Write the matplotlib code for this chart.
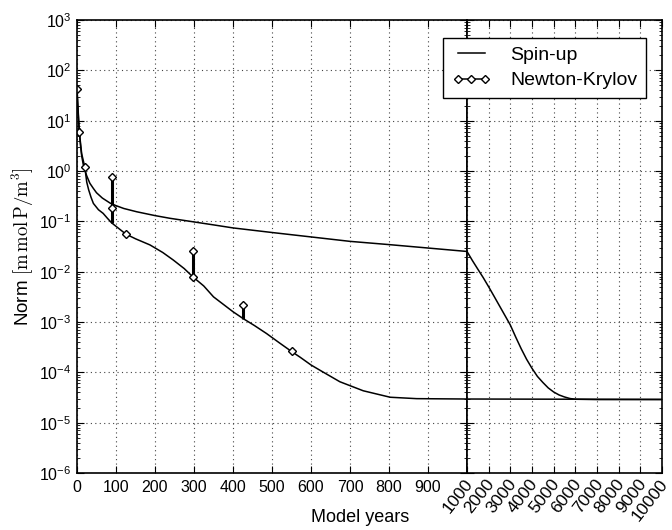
import numpy as np
import matplotlib
matplotlib.use("Agg")
import matplotlib.pyplot as plt
from matplotlib.lines import Line2D
from matplotlib.ticker import LogLocator, NullFormatter
from matplotlib.transforms import ScaledTranslation

plt.rcParams['font.family'] = ['Liberation Sans', 'DejaVu Sans']

# spin-up residual, years 0..1000
spin_years = [0, 2, 4, 6, 9, 12, 16, 20, 25, 33, 42, 50, 65, 85, 100, 120,
              153, 200, 238, 290, 350, 400, 500, 600, 700, 800, 900, 1000]
spin_norm = [42, 20, 10, 5.9, 3.2, 2.0, 1.35, 1.05, 0.8, 0.57, 0.45, 0.37,
             0.29, 0.23, 0.205, 0.18, 0.155, 0.13, 0.115, 0.10, 0.085, 0.074,
             0.06, 0.049, 0.040, 0.0345, 0.0295, 0.0252]
# spin-up residual, years 1000..10000
spin_years_long = [1000, 1250, 1500, 1750, 2000, 2250, 2500, 2750, 3000, 3250,
                   3500, 3750, 4000, 4250, 4500, 4750, 5000, 5250, 5500, 5750,
                   6000, 7000, 10000]
spin_norm_long = [0.0252, 0.0166, 0.0112, 0.0076, 0.0050, 0.00324, 0.00209,
                  0.00135, 8.7e-4, 5.0e-4, 2.95e-4, 1.82e-4, 1.2e-4, 8.3e-5,
                  6.3e-5, 4.9e-5, 4.07e-5, 3.55e-5, 3.24e-5, 3.02e-5, 2.92e-5,
                  2.88e-5, 2.88e-5]

# Newton-Krylov trajectory
nk_years = [0, 6, 12, 20, 25, 30, 36, 42, 55, 67, 78, 89, 125, 150, 187, 220,
            247, 275, 297, 325, 350, 400, 426, 455, 486, 520, 550, 572, 600,
            623, 674, 734, 803, 871, 1000]
nk_norm = [42, 5.9, 2.2, 1.2, 0.6, 0.42, 0.3, 0.227, 0.17, 0.144, 0.115, 0.093,
           0.056, 0.045, 0.034, 0.024, 0.017, 0.0115, 0.0079, 0.0052, 0.00316,
           0.0016, 0.00117, 0.00085, 0.00059, 0.00038, 0.00026, 0.0002,
           0.00014, 0.00011, 6.5e-5, 4.3e-5, 3.2e-5, 3.0e-5, 2.95e-5]
nk_years_long = [1000, 10000]
nk_norm_long = [2.95e-5, 2.9e-5]

# Newton iterates (markers) and restarts (vertical jumps)
mark_years = [0, 6, 20, 89, 90, 125, 297, 297, 426, 550]
mark_norm = [42, 5.9, 1.2, 0.77, 0.18, 0.056, 0.026, 0.0079, 0.00216, 0.00026]
jump_years = [89, 297, 426]
jump_low = [0.093, 0.0079, 0.00117]
jump_high = [0.77, 0.026, 0.00216]

y_ticks = [1e-6, 1e-5, 1e-4, 1e-3, 1e-2, 1e-1, 1e0, 1e1, 1e2, 1e3]

fig = plt.figure(figsize=(6.72, 5.30), dpi=100)
ax1 = fig.add_axes([77 / 672, 1 - 473 / 530, 390 / 672, 453 / 530])
ax2 = fig.add_axes([467 / 672, 1 - 473 / 530, 195 / 672, 453 / 530])

ax1.plot(spin_years, spin_norm, color='black', lw=1.1)
ax1.plot(nk_years, nk_norm, color='black', lw=1.1)
ax1.vlines(jump_years, jump_low, jump_high, color='black', lw=2.2)
ax1.plot(mark_years, mark_norm, ls='none', marker='D', ms=4.5, mfc='white',
         mec='black', mew=1.0)

ax2.plot(spin_years_long, spin_norm_long, color='black', lw=1.1)
ax2.plot(nk_years_long, nk_norm_long, color='black', lw=1.1)

for ax in (ax1, ax2):
    ax.set_yscale('log')
    ax.set_ylim(1e-6, 1e3)
    ax.set_yticks(y_ticks)
    ax.yaxis.set_minor_locator(LogLocator(base=10, subs=np.arange(2, 10), numticks=20))
    ax.yaxis.set_minor_formatter(NullFormatter())
    ax.set_ylim(1e-6, 1e3)
    ax.grid(True, which='major', ls=(0, (1, 3)), color='#444444', lw=0.8)
    ax.tick_params(which='both', direction='in', top=True, right=True,
                   labelsize=11.5)
    ax.tick_params(which='major', length=5)
    ax.tick_params(which='minor', length=2.5)
    for sp in ax.spines.values():
        sp.set_linewidth(1.2)

ax1.set_xlim(0, 1000)
ax1.set_xticks(range(0, 1000, 100))
ax1.tick_params(axis='x', pad=5)
ax1.tick_params(axis='y', pad=4)

ax2.set_xlim(1000, 10000)
ax2.set_xticks(range(1000, 10001, 1000))
ax2.set_xticklabels([str(v) for v in range(1000, 10001, 1000)], rotation=52,
                    ha='right', va='top', rotation_mode='anchor', fontsize=12.5)
ax2.tick_params(axis='x', pad=2.5)
ax2.tick_params(axis='y', labelleft=False)
shift = ScaledTranslation(-3 / 100, 0, fig.dpi_scale_trans)
for lab in ax2.get_xticklabels():
    lab.set_transform(lab.get_transform() + shift)

ax1.set_ylabel(r'Norm $[\mathrm{m\,mol\,P/m^3}]$', fontsize=13.5,
               math_fontfamily='cm', labelpad=2)
fig.text(360 / 672, 1 - 522 / 530, 'Model years', ha='center', va='baseline',
         fontsize=13)

handles = [Line2D([], [], color='black', lw=1.1),
           Line2D([], [], color='black', lw=1.1, marker='D', ms=4.5,
                  mfc='white', mec='black')]
leg = fig.legend(handles, ['Spin-up', 'Newton-Krylov'], loc='upper right',
                 bbox_to_anchor=(646 / 672, 1 - 37.7 / 530), borderaxespad=0,
                 fontsize=14, numpoints=3, fancybox=False, framealpha=1,
                 edgecolor='black', handlelength=2.0, handletextpad=1.0,
                 labelspacing=0.4, borderpad=0.45)
leg.get_frame().set_linewidth(1.0)

plt.savefig('out.png', dpi=100)
